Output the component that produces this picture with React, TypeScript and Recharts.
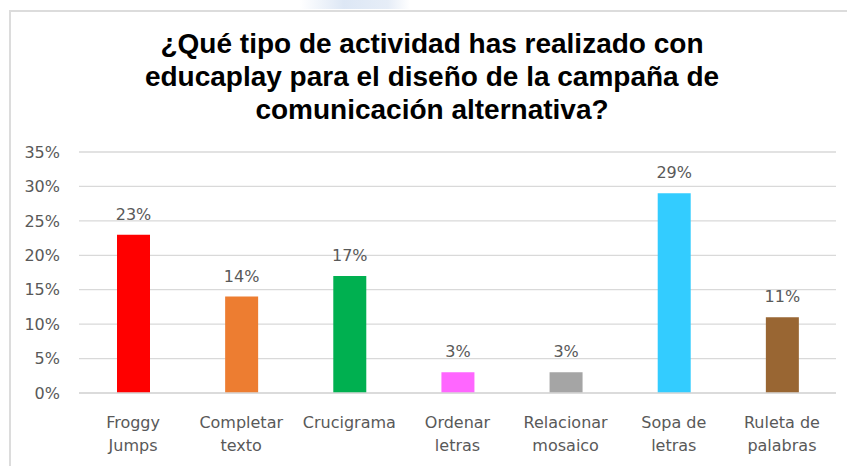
import { BarChart, Bar, XAxis, YAxis, CartesianGrid, Cell, LabelList } from "recharts";

const categories = [
  "Froggy\nJumps",
  "Completar\ntexto",
  "Crucigrama",
  "Ordenar\nletras",
  "Relacionar\nmosaico",
  "Sopa de\nletras",
  "Ruleta de\npalabras",
];
const values = [23, 14, 17, 3, 3, 29, 11];
const barColors = ["#FF0000", "#ED7D31", "#00B050", "#FF66FF", "#A5A5A5", "#33CCFF", "#996633"];
const yTicks = [0, 5, 10, 15, 20, 25, 30, 35];
const titleLines = [
  "¿Qué tipo de actividad has realizado con",
  "educaplay para el diseño de la campaña de",
  "comunicación alternativa?",
];

const data = categories.map((name, i) => ({ name, value: values[i] }));

const labelFont = "'DejaVu Sans', sans-serif";
const gray = "#595959";

function CategoryTick(props: any) {
  const { x, y, payload } = props;
  const lines = String(payload.value).split("\n");
  return (
    <text x={x} y={y + 27} textAnchor="middle" fill={gray} fontSize={16} fontFamily={labelFont}>
      {lines.map((l, i) => (
        <tspan key={i} x={x} dy={i === 0 ? 0 : 23}>
          {l}
        </tspan>
      ))}
    </text>
  );
}

export default function App() {
  return (
    <div style={{ position: "absolute", left: 0, top: 0, width: 847, height: 466, background: "#fff", overflow: "hidden" }}>
      <div
        style={{
          position: "absolute",
          left: 300,
          top: 0,
          width: 110,
          height: 9,
          background: "linear-gradient(to right, #ffffff, #dde7f5 40%, #e6edf7 80%, #ffffff)",
        }}
      />
      <div
        style={{
          position: "absolute",
          left: 9,
          top: 10,
          width: 860,
          height: 470,
          borderLeft: "2px solid #dcdcdc",
          borderTop: "2px solid #dcdcdc",
        }}
      />
      <svg width={847} height={130} style={{ position: "absolute", left: 0, top: 0 }}>
        {titleLines.map((t, i) => (
          <text
            key={i}
            x={432}
            y={53 + i * 33}
            textAnchor="middle"
            fontFamily="'Liberation Sans', Arial, sans-serif"
            fontWeight="bold"
            fontSize={28}
            fill="#000"
          >
            {t}
          </text>
        ))}
      </svg>
      <div style={{ position: "absolute", left: 0, top: 0 }}>
        <BarChart width={847} height={466} data={data} margin={{ top: 152, right: 11, bottom: 0, left: 0 }}>
          <CartesianGrid vertical={false} stroke="#d9d9d9" strokeWidth={1.3} />
          <XAxis
            dataKey="name"
            axisLine={{ stroke: "#d9d9d9", strokeWidth: 1.3 }}
            tickLine={false}
            height={73}
            interval={0}
            tick={<CategoryTick />}
          />
          <YAxis
            domain={[0, 35]}
            ticks={yTicks}
            width={79}
            axisLine={false}
            tickLine={false}
            tickMargin={13}
            tickFormatter={(v) => `${v}%`}
            tick={{ fill: gray, fontSize: 16, fontFamily: labelFont }}
          />
          <Bar dataKey="value" barSize={33} isAnimationActive={false}>
            {data.map((d, i) => (
              <Cell key={d.name} fill={barColors[i]} />
            ))}
            <LabelList
              dataKey="value"
              position="top"
              offset={15}
              formatter={(v: any) => `${v}%`}
              fill={gray}
              fontSize={16}
              fontFamily={labelFont}
            />
          </Bar>
        </BarChart>
      </div>
    </div>
  );
}
